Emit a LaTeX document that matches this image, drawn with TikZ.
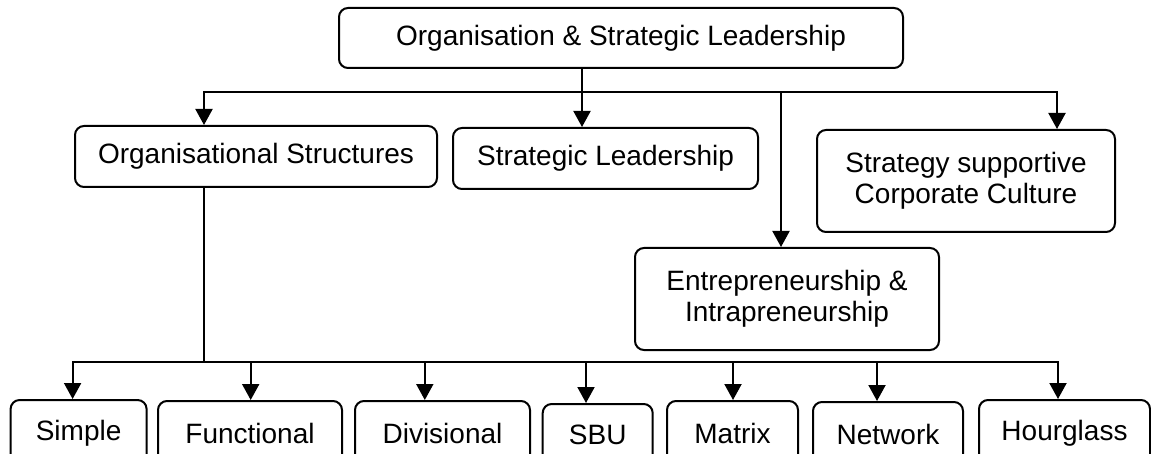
\documentclass[tikz,border=0pt]{standalone}
\usepackage{fontspec}
\setmainfont{Liberation Sans}
\usetikzlibrary{arrows.meta}
\begin{document}
\begin{tikzpicture}[x=0.5pt,y=-0.5pt,
  box/.style={draw,line width=1pt,rounded corners=4.5pt,align=center,
    inner sep=0pt,font=\fontsize{14pt}{15.5pt}\selectfont},
  link/.style={line width=1pt},
  arr/.style={link,-{Triangle[length=8pt,width=8.5pt]}}]
\useasboundingbox (0,0) rectangle (1151,454);
\clip (0,0) rectangle (1151,454);

% upper level
\node[box,minimum width=282pt,minimum height=30pt] (top) at (621,38) {Organisation \& Strategic Leadership};
\node[box,minimum width=181pt,minimum height=30.5pt] (os) at (256,156.5) {Organisational Structures};
\node[box,minimum width=152.5pt,minimum height=30.5pt] (sl) at (605.5,158.5) {Strategic Leadership};
\node[box,minimum width=149pt,minimum height=51pt] (sc) at (966,181) {Strategy supportive\\Corporate Culture};
\node[box,minimum width=152pt,minimum height=51pt] (ei) at (787,299) {Entrepreneurship \&\\Intrapreneurship};

% structure types
\node[box,minimum width=68pt,minimum height=33pt] (simple) at (78.6,433) {Simple};
\node[box,minimum width=92pt,minimum height=32.5pt] (func) at (250,433.5) {Functional};
\node[box,minimum width=87.5pt,minimum height=32.5pt] (div) at (442.5,433.5) {Divisional};
\node[box,minimum width=55pt,minimum height=31pt] (sbu) at (597.7,435) {SBU};
\node[box,minimum width=65.5pt,minimum height=32.5pt] (matrix) at (732.5,433.5) {Matrix};
\node[box,minimum width=75pt,minimum height=32pt] (net) at (888,434) {Network};
\node[box,minimum width=85.5pt,minimum height=33pt] (hour) at (1064.5,433) {Hourglass};

% junctions
\coordinate (tj) at (582,92.5);
\coordinate (bj) at (204,361.5);

% upper connectors
\draw[link] (top.south -| tj) -- (tj);
\draw[arr] (tj) -| ([xshift=-26pt]os.north);
\draw[arr] (tj) -- (sl.north -| tj);
\draw[arr] (tj) -| ([xshift=-3pt]ei.north);
\draw[arr] (tj) -| ([xshift=45.5pt]sc.north);

% lower connectors
\draw[link] (os.south -| bj) -- (bj);
\draw[arr] (bj) -| ([xshift=-3pt]simple.north);
\draw[arr] (bj) -| ([xshift=0.35pt]func.north);
\draw[arr] (bj) -| ([xshift=-8.85pt]div.north);
\draw[arr] (bj) -| ([xshift=-5.85pt]sbu.north);
\draw[arr] (bj) -| ([xshift=0.25pt]matrix.north);
\draw[arr] (bj) -| ([xshift=-5.5pt]net.north);
\draw[arr] (bj) -| ([xshift=-3.25pt]hour.north);
\end{tikzpicture}
\end{document}
